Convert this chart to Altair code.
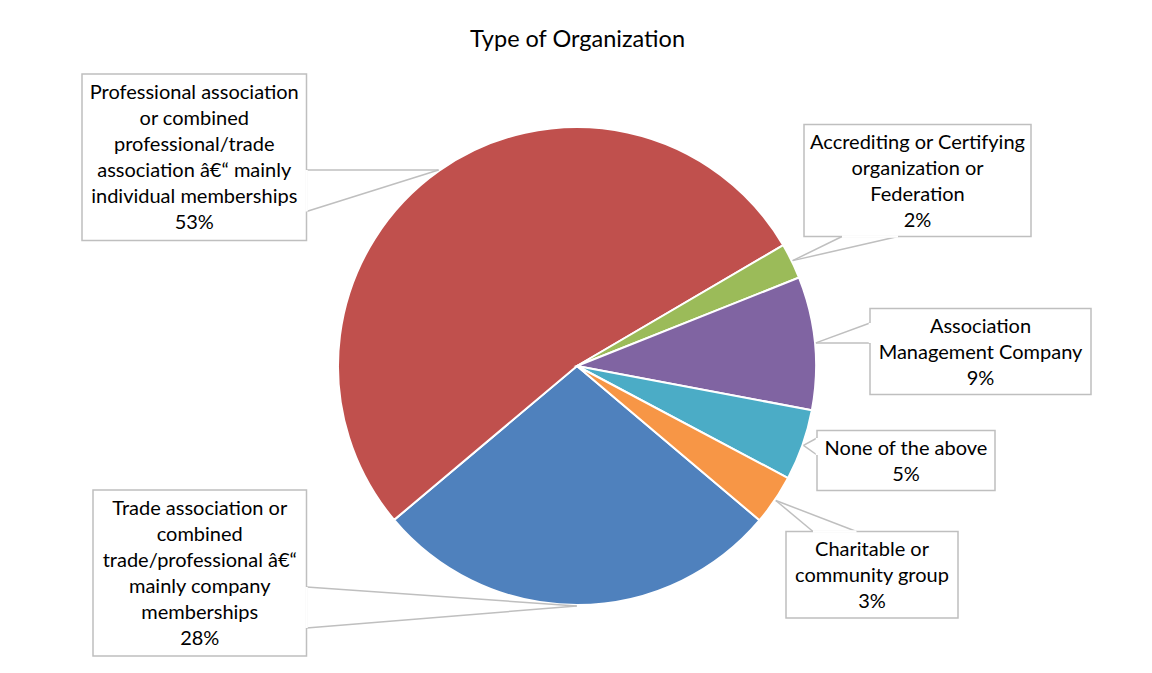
import math
import altair as alt
import pandas as pd

# ---------------- data ----------------
names = [
    "Trade association or combined trade/professional",
    "Professional association or combined professional/trade",
    "Accrediting or Certifying organization or Federation",
    "Association Management Company",
    "None of the above",
    "Charitable or community group",
]
values = [27.7, 52.7, 2.4, 9.0, 4.8, 3.4]
pct_labels = ["28%", "53%", "2%", "9%", "5%", "3%"]
label_lines = [
    ["Trade association or", "combined", "trade/professional \u00e2\u20ac\u201c", "mainly company", "memberships"],
    ["Professional association", "or combined", "professional/trade", "association \u00e2\u20ac\u201c mainly", "individual memberships"],
    ["Accrediting or Certifying", "organization or", "Federation"],
    ["Association", "Management  Company"],
    ["None of the above"],
    ["Charitable or", "community group"],
]
colors = ["#4F81BD", "#C0504D", "#9BBB59", "#8064A2", "#4BACC6", "#F79646"]
title_text = "Type of Organization"

# ---------------- layout (page pixels) ----------------
W, H = 1136, 657          # plot area; page offset 8px
OFF = 8
CX, CY, R = 577, 366, 239
START_DEG = 130.2
FONT = "Lato"
LINE_H = 26
boxes = [  # x1, y1, x2, y2
    (93, 490, 306.5, 656),
    (82, 74, 306.5, 240.5),
    (804, 124.5, 1031, 236.5),
    (870, 308.5, 1091, 394.5),
    (817, 430.5, 995, 490.5),
    (786, 531.5, 958, 618),
]
wedge_bases = [
    ((306.5, 587), (306.5, 628)),
    ((306.5, 170), (306.5, 211.5)),
    ((842, 236.5), (898, 236.5)),
    ((870, 323), (870, 343)),
    ((817, 438), (817, 455)),
    ((813, 531.5), (856.5, 531.5)),
]

# ---------------- derived frames ----------------
total = sum(values)
pie_df = pd.DataFrame({"name": names, "value": values, "idx": list(range(len(names)))})

tips = []
cum = 0.0
for v in values:
    a = math.radians(START_DEG + 360.0 * (cum + v / 2.0) / total)
    tips.append((CX + (R + 1) * math.sin(a), CY - (R + 1) * math.cos(a)))
    cum += v

box_rows, line_rows, gap_rows = [], [], []
for i, (x1, y1, x2, y2) in enumerate(boxes):
    lines_i = label_lines[i] + [pct_labels[i]]
    n = len(lines_i)
    box_rows.append({
        "x1": x1, "y1": y1, "x2": x2, "y2": y2,
        "cx": (x1 + x2) / 2,
        "ty": (y1 + y2) / 2 - (n - 1) * LINE_H / 2 + 1,
        "text": "\n".join(lines_i),
    })
    (bx1, by1), (bx2, by2) = wedge_bases[i]
    tx, ty = tips[i]
    line_rows.append({"x": tx, "y": ty, "x2": bx1, "y2": by1})
    line_rows.append({"x": tx, "y": ty, "x2": bx2, "y2": by2})
    gap_rows.append({"x": bx1, "y": by1, "x2": bx2, "y2": by2})

box_df = pd.DataFrame(box_rows)
line_df = pd.DataFrame(line_rows)
gap_df = pd.DataFrame(gap_rows)
title_df = pd.DataFrame({"x": [577.5], "y": [40], "t": [title_text]})

xs = alt.Scale(domain=[OFF, OFF + W], range=[0, W], zero=False, nice=False)
ys = alt.Scale(domain=[OFF, OFF + H], range=[0, H], zero=False, nice=False)

pie = alt.Chart(pie_df).mark_arc(outerRadius=R, stroke="white", strokeWidth=2).encode(
    theta=alt.Theta("value:Q", stack=True,
                    scale=alt.Scale(range=[math.radians(START_DEG), math.radians(START_DEG) + 2 * math.pi])),
    order=alt.Order("idx:Q"),
    color=alt.Color("name:N", scale=alt.Scale(domain=names, range=colors), legend=None),
    x=alt.value(CX - OFF),
    y=alt.value(CY - OFF),
)

lines = alt.Chart(line_df).mark_rule(color="#BFBFBF", strokeWidth=1.5).encode(
    x=alt.X("x:Q", scale=xs, axis=None),
    y=alt.Y("y:Q", scale=ys, axis=None),
    x2="x2:Q",
    y2="y2:Q",
)

rects = alt.Chart(box_df).mark_rect(fill="white", stroke="#BFBFBF", strokeWidth=1.5).encode(
    x=alt.X("x1:Q", scale=xs, axis=None),
    x2="x2:Q",
    y=alt.Y("y1:Q", scale=ys, axis=None),
    y2="y2:Q",
)

gaps = alt.Chart(gap_df).mark_rule(color="white", strokeWidth=2.5).encode(
    x=alt.X("x:Q", scale=xs, axis=None),
    y=alt.Y("y:Q", scale=ys, axis=None),
    x2="x2:Q",
    y2="y2:Q",
)

texts = alt.Chart(box_df).mark_text(
    align="center", baseline="middle", lineBreak="\n", lineHeight=LINE_H,
    font=FONT, fontSize=20, color="#000000",
).encode(
    x=alt.X("cx:Q", scale=xs, axis=None),
    y=alt.Y("ty:Q", scale=ys, axis=None),
    text="text:N",
)

title = alt.Chart(title_df).mark_text(
    align="center", baseline="middle", font=FONT, fontSize=23.5, color="#000000",
).encode(
    x=alt.X("x:Q", scale=xs, axis=None),
    y=alt.Y("y:Q", scale=ys, axis=None),
    text="t:N",
)

chart = alt.layer(pie, lines, rects, gaps, texts, title).properties(
    width=W, height=H,
    autosize=alt.AutoSizeParams(type="none"),
    padding=0,
).configure_view(strokeWidth=0)

chart.save("out.html", embed_options={"renderer": "svg", "actions": False})
